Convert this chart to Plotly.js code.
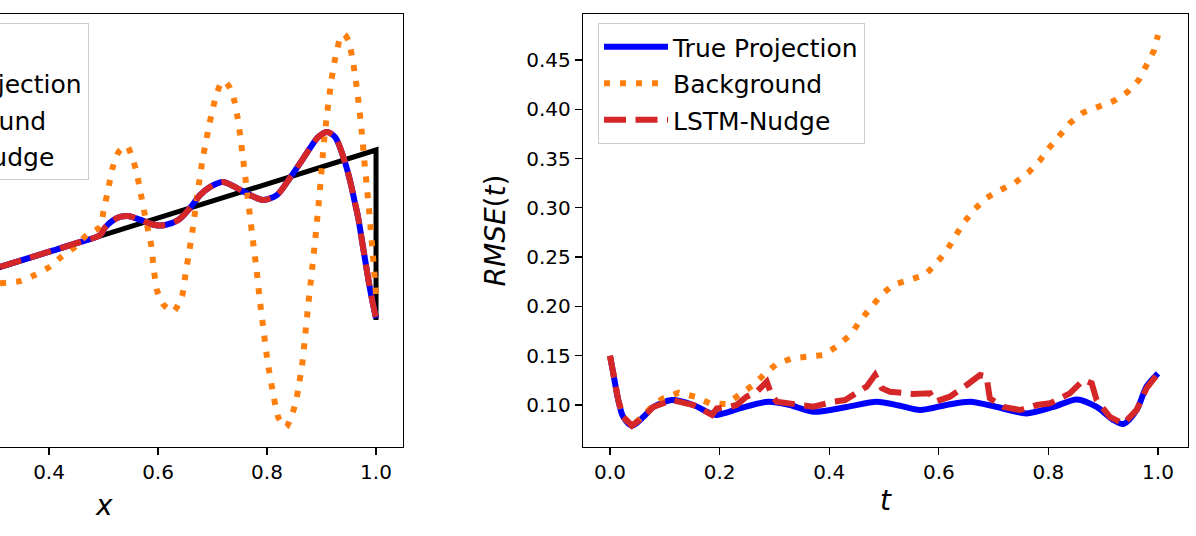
<!DOCTYPE html>
<html>
<head>
<meta charset="utf-8">
<script src="https://cdn.plot.ly/plotly-3.0.1.min.js"></script>
<style>
html, body { margin: 0; padding: 0; background: #ffffff; }
#chart { width: 1196px; height: 536px; }
</style>
</head>
<body>
<div id="chart"></div>
<script>
// ---------- series names ----------
const nameExact = 'Exact';
const nameTrue = 'True Projection';
const nameBg = 'Background';
const nameNudge = 'LSTM-Nudge';

// ---------- left panel: u(x) at final time ----------
const xExact = [0, 1, 1];
const uExact = [0, 1, 0];

const xLeft = [0.310, 0.350, 0.400, 0.450, 0.494, 0.503, 0.517, 0.530, 0.545, 0.567, 0.594, 0.613, 0.637,
  0.659, 0.677, 0.695, 0.719, 0.745, 0.769, 0.793, 0.818, 0.842, 0.861, 0.879, 0.894, 0.910,
  0.925, 0.940, 0.952, 0.961, 0.967, 0.974, 0.980, 0.987, 0.994, 1.000];
const uTrueLeft = [0.312, 0.352, 0.402, 0.452, 0.500, 0.545, 0.585, 0.606, 0.612, 0.590, 0.559, 0.559, 0.588,
  0.660, 0.735, 0.782, 0.812, 0.776, 0.735, 0.706, 0.735, 0.835, 0.924, 1.012, 1.076, 1.106,
  1.076, 0.959, 0.824, 0.694, 0.606, 0.471, 0.353, 0.218, 0.100, 0.012];
const uNudgeLeft = [0.312, 0.352, 0.402, 0.452, 0.500, 0.545, 0.585, 0.606, 0.612, 0.590, 0.559, 0.559, 0.588,
  0.660, 0.735, 0.782, 0.812, 0.776, 0.735, 0.706, 0.735, 0.835, 0.924, 1.012, 1.076, 1.106,
  1.076, 0.959, 0.824, 0.694, 0.606, 0.471, 0.353, 0.218, 0.100, 0.012];

const xBgLeft = [0.310, 0.347, 0.374, 0.402, 0.423, 0.448, 0.469, 0.494, 0.500, 0.508, 0.517, 0.528, 0.543,
  0.554, 0.561, 0.567, 0.577, 0.588, 0.591, 0.598, 0.610, 0.628, 0.644, 0.650, 0.657, 0.663,
  0.669, 0.675, 0.681, 0.688, 0.694, 0.700, 0.706, 0.715, 0.722, 0.732, 0.740, 0.746, 0.751,
  0.756, 0.762, 0.768, 0.774, 0.781, 0.787, 0.794, 0.801, 0.810, 0.821, 0.835, 0.847, 0.854,
  0.859, 0.864, 0.870, 0.876, 0.882, 0.888, 0.894, 0.899, 0.904, 0.910, 0.916, 0.922, 0.928,
  0.935, 0.942, 0.950, 0.956, 0.962, 0.968, 0.974, 0.979, 0.984, 0.989, 0.994, 1.000];
const uBgLeft = [0.216, 0.229, 0.265, 0.314, 0.373, 0.431, 0.500, 0.549, 0.640, 0.760, 0.900, 0.990, 1.024,
  0.941, 0.863, 0.765, 0.600, 0.431, 0.333, 0.176, 0.090, 0.049, 0.140, 0.260, 0.400, 0.520,
  0.660, 0.800, 0.930, 1.050, 1.150, 1.235, 1.314, 1.390, 1.405, 1.365, 1.290, 1.190, 1.080,
  0.950, 0.790, 0.630, 0.470, 0.290, 0.110, -0.070, -0.245, -0.410, -0.575, -0.630, -0.545, -0.465,
  -0.370, -0.275, -0.090, 0.100, 0.280, 0.460, 0.660, 0.840, 1.030, 1.210, 1.360, 1.490, 1.580,
  1.665, 1.680, 1.640, 1.550, 1.430, 1.280, 1.100, 0.920, 0.760, 0.580, 0.390, 0.150];

const xTicksLeft = [0.2, 0.4, 0.6, 0.8, 1.0];
const xTickTextLeft = ['0.2', '0.4', '0.6', '0.8', '1.0'];

// ---------- right panel: RMSE(t) ----------
const tTrue = [0, 0.006, 0.015, 0.024, 0.040, 0.061, 0.079, 0.113, 0.152, 0.192, 0.237, 0.289, 0.328,
  0.371, 0.432, 0.487, 0.527, 0.566, 0.614, 0.657, 0.706, 0.760, 0.809, 0.852, 0.888, 0.918,
  0.937, 0.961, 0.979, 1.0];
const rmseTrue = [0.150, 0.132, 0.105, 0.088, 0.079, 0.088, 0.098, 0.105, 0.100, 0.090, 0.0966, 0.1034, 0.100,
  0.0932, 0.098, 0.1034, 0.0995, 0.0949, 0.100, 0.1034, 0.098, 0.0915, 0.098, 0.1057, 0.098, 0.085,
  0.0807, 0.095, 0.1186, 0.132];

const tBg = [0, 0.006, 0.015, 0.024, 0.040, 0.061, 0.079, 0.097, 0.125, 0.155, 0.182, 0.212, 0.237, 0.2615,
  0.280, 0.304, 0.332, 0.362, 0.389, 0.415, 0.440, 0.457, 0.478, 0.495, 0.516, 0.546, 0.575,
  0.596, 0.615, 0.630, 0.647, 0.665, 0.687, 0.712, 0.739, 0.763, 0.784, 0.802, 0.821, 0.840,
  0.863, 0.892, 0.920, 0.945, 0.965, 0.979, 0.993, 1.0];
const rmseBg = [0.150, 0.132, 0.105, 0.088, 0.079, 0.089, 0.100, 0.1068, 0.1125, 0.1084, 0.1017, 0.101, 0.110,
  0.1203, 0.1304, 0.1416, 0.1473, 0.149, 0.1507, 0.1598, 0.172, 0.186, 0.1997, 0.2116, 0.2217,
  0.2268, 0.232, 0.244, 0.257, 0.2714, 0.286, 0.2985, 0.310, 0.318, 0.3255, 0.3356, 0.3478,
  0.3613, 0.3738, 0.3863, 0.3965, 0.4032, 0.4086, 0.4178, 0.4296, 0.4448, 0.460, 0.4753];

const tNudge = [0, 0.006, 0.015, 0.024, 0.040, 0.061, 0.079, 0.113, 0.152, 0.186, 0.195, 0.213, 0.231, 0.249,
  0.268, 0.286, 0.295, 0.304, 0.347, 0.371, 0.4075, 0.429, 0.468, 0.4836, 0.496, 0.511, 0.553,
  0.584, 0.593, 0.620, 0.651, 0.675, 0.687, 0.693, 0.718, 0.748, 0.779, 0.803, 0.839, 0.864,
  0.879, 0.888, 0.912, 0.937, 0.961, 0.979, 1.0];
const rmseNudge = [0.150, 0.132, 0.105, 0.088, 0.079, 0.088, 0.098, 0.105, 0.100, 0.090, 0.0966, 0.0973, 0.100,
  0.1084, 0.1135, 0.1237, 0.110, 0.1034, 0.100, 0.0983, 0.1034, 0.105, 0.1186, 0.1304, 0.117,
  0.1135, 0.1111, 0.1118, 0.1034, 0.1084, 0.1203, 0.1304, 0.129, 0.1068, 0.098, 0.0949, 0.100,
  0.1017, 0.1118, 0.1254, 0.122, 0.105, 0.088, 0.081, 0.095, 0.117, 0.132];

// ---------- styles ----------
const cBlack = '#000000', cBlue = '#0000ff', cOrange = '#ff7f0e', cRed = '#d62728';
const dotted = '6px,10px';
const dashed = '22px,9.5px';
const FONT = 'DejaVu Sans, Verdana, sans-serif';

const traces = [
  { x: xExact, y: uExact, xaxis: 'x', yaxis: 'y', name: nameExact, mode: 'lines',
    line: { color: cBlack, width: 5 }, legend: 'legend', legendgroup: 'L0' },
  { x: xLeft, y: uTrueLeft, xaxis: 'x', yaxis: 'y', name: nameTrue, mode: 'lines',
    line: { color: cBlue, width: 6, shape: 'spline', smoothing: 0.8 }, legend: 'legend', legendgroup: 'L1' },
  { x: xBgLeft, y: uBgLeft, xaxis: 'x', yaxis: 'y', name: nameBg, mode: 'lines',
    line: { color: cOrange, width: 6, dash: dotted, shape: 'spline', smoothing: 0.6 }, legend: 'legend', legendgroup: 'L2' },
  { x: xLeft, y: uNudgeLeft, xaxis: 'x', yaxis: 'y', name: nameNudge, mode: 'lines',
    line: { color: cRed, width: 6, dash: dashed, shape: 'spline', smoothing: 0.8 }, legend: 'legend', legendgroup: 'L3' },

  { x: tTrue, y: rmseTrue, xaxis: 'x2', yaxis: 'y2', name: nameTrue, mode: 'lines',
    line: { color: cBlue, width: 6, shape: 'spline', smoothing: 0.8 }, legend: 'legend2', legendgroup: 'R1' },
  { x: tBg, y: rmseBg, xaxis: 'x2', yaxis: 'y2', name: nameBg, mode: 'lines',
    line: { color: cOrange, width: 6, dash: dotted }, legend: 'legend2', legendgroup: 'R2' },
  { x: tNudge, y: rmseNudge, xaxis: 'x2', yaxis: 'y2', name: nameNudge, mode: 'lines',
    line: { color: cRed, width: 6, dash: dashed }, legend: 'legend2', legendgroup: 'R3' }
];

const axisCommon = {
  showgrid: false, zeroline: false, showline: true, linecolor: '#000', linewidth: 1.3,
  ticks: 'outside', ticklen: 7, tickwidth: 1.3, tickcolor: '#000',
  tickfont: { family: FONT, size: 20, color: '#000' }, fixedrange: true
};

const legendCommon = {
  xref: 'paper', yref: 'paper', xanchor: 'left', yanchor: 'top',
  bgcolor: 'rgba(255,255,255,0.85)', bordercolor: '#cccccc', borderwidth: 1,
  font: { family: FONT, size: 25, color: '#000' },
  itemwidth: 64, tracegroupgap: 1, traceorder: 'grouped', itemclick: false, itemdoubleclick: false
};

const layout = {
  width: 1196, height: 536,
  margin: { l: 0, r: 0, t: 14, b: 89, pad: 0, autoexpand: false },
  paper_bgcolor: '#ffffff', plot_bgcolor: '#ffffff',
  font: { family: FONT, size: 20, color: '#000' },
  showlegend: true,
  xaxis: Object.assign({}, axisCommon, {
    domain: [0, 403 / 1196], range: [0.310, 1.0495], anchor: 'y', mirror: true,
    tickvals: xTicksLeft, ticktext: xTickTextLeft
  }),
  yaxis: Object.assign({}, axisCommon, {
    domain: [0, 1], range: [-0.747, 1.8], anchor: 'x', side: 'right',
    ticks: '', showticklabels: false
  }),
  xaxis2: Object.assign({}, axisCommon, {
    domain: [583 / 1196, 1188 / 1196], range: [-0.0493, 1.0547], anchor: 'y2', mirror: true,
    dtick: 0.2, tick0: 0, tickformat: '.1f',
    title: { text: '<i>t</i>', font: { family: FONT, size: 28, color: '#000' }, standoff: 7 }
  }),
  yaxis2: Object.assign({}, axisCommon, {
    domain: [0, 1], range: [0.0574, 0.4966], anchor: 'x2', mirror: true,
    dtick: 0.05, tick0: 0, tickformat: '.2f',
    title: { text: '<i>RMSE</i>(<i>t</i>)', font: { family: FONT, size: 28, color: '#000' }, standoff: 12 }
  }),
  legend: Object.assign({}, legendCommon, { x: -178 / 1196, y: 1 - 9 / 433 }),
  legend2: Object.assign({}, legendCommon, { x: 598 / 1196, y: 1 - 9 / 433 }),
  annotations: [
    { text: '<i>x</i>', xref: 'paper', yref: 'paper', x: 104 / 1196, y: (447 - 505) / 433,
      xanchor: 'center', yanchor: 'middle', showarrow: false,
      font: { family: FONT, size: 28, color: '#000' } }
  ]
};

Plotly.newPlot('chart', traces, layout, { displayModeBar: false, staticPlot: true, responsive: false });
</script>
</body>
</html>
